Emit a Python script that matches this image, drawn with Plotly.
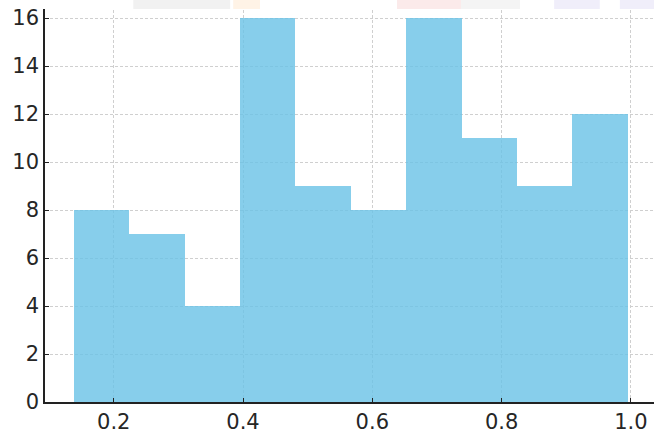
import numpy as np
import plotly.graph_objects as go

# Histogram of 100 values in [0.14, 0.99], 10 equal bins
bin_lo = 0.1386
bin_hi = 0.995
counts = [8, 7, 4, 16, 9, 8, 16, 11, 9, 12]
x_ticks = [0.2, 0.4, 0.6, 0.8, 1.0]
x_tick_labels = ["0.2", "0.4", "0.6", "0.8", "1.0"]
y_ticks = [0, 2, 4, 6, 8, 10, 12, 14, 16]

edges = np.linspace(bin_lo, bin_hi, len(counts) + 1)
centers = (edges[:-1] + edges[1:]) / 2
widths = np.diff(edges)

fig = go.Figure()
fig.add_trace(go.Bar(
    x=centers, y=counts, width=widths,
    marker=dict(color="rgba(105,194,230,0.8)", line=dict(width=0)),
    hoverinfo="skip",
))

axis_font = dict(family="DejaVu Sans", size=21, color="#262626")
grid = dict(showgrid=True, gridcolor="#cfcfcf", griddash="3px,2px", gridwidth=1)
line = dict(showline=True, linecolor="#222222", linewidth=1.6,
            ticks="inside", ticklen=4, tickwidth=1.3, tickcolor="#222222",
            zeroline=False, automargin=False)
fig.update_layout(
    width=654, height=433,
    margin=dict(l=45, r=0, t=0, b=31),
    paper_bgcolor="white", plot_bgcolor="white",
    showlegend=False, bargap=0,
    xaxis=dict(range=[0.0937, 1.0357], tickvals=x_ticks, ticktext=x_tick_labels,
               tickfont=axis_font, **grid, **line),
    yaxis=dict(range=[0, 16.75], tickvals=y_ticks,
               tickfont=axis_font, **grid, **line),
)

# faint banner strip along the top edge
fig.add_shape(type="rect", xref="paper", yref="paper", x0=-0.08, x1=1.0,
              y0=0.9776, y1=1.0, fillcolor="white", line_width=0, layer="above")
banner = [
    (0.145, 0.304, "rgba(210,210,210,0.30)"),
    (0.309, 0.353, "rgba(255,200,140,0.22)"),
    (0.578, 0.683, "rgba(235,150,150,0.20)"),
    (0.683, 0.780, "rgba(210,210,210,0.25)"),
    (0.836, 0.911, "rgba(180,170,230,0.20)"),
    (0.944, 1.000, "rgba(180,170,230,0.20)"),
]
for a, b, c in banner:
    fig.add_shape(type="rect", xref="paper", yref="paper", x0=a, x1=b,
                  y0=0.9776, y1=1.0, fillcolor=c, line_width=0, layer="above")

fig.write_html("out.html")
